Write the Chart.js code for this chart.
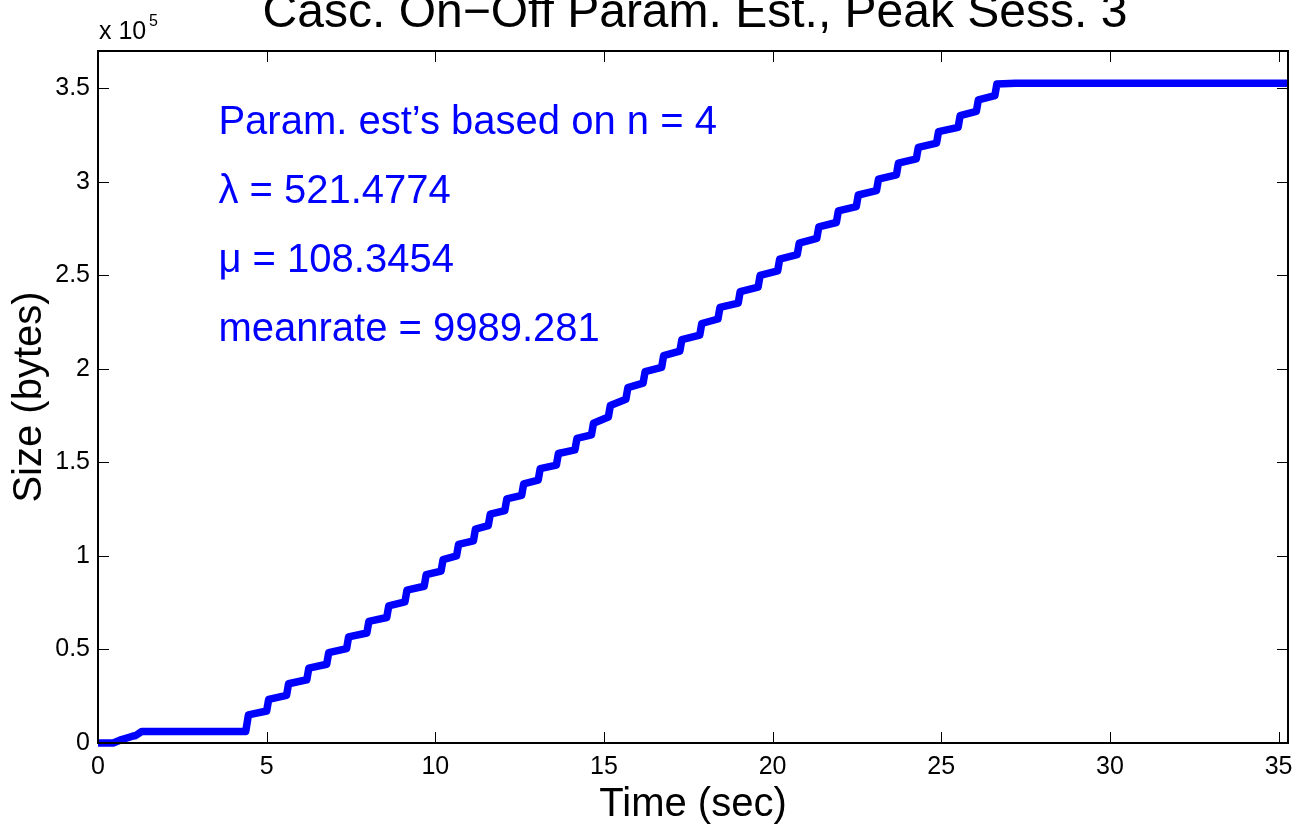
<!DOCTYPE html>
<html>
<head>
<meta charset="utf-8">
<script src="https://cdn.jsdelivr.net/npm/chart.js@4/dist/chart.umd.min.js"></script>
<style>
html,body{margin:0;padding:0;background:#fff;}
#wrap{position:relative;width:1305px;height:829px;}
</style>
</head>
<body>
<div id="wrap"><canvas id="c" width="1305" height="829"></canvas></div>
<script>
// ---- data (time in seconds, size in bytes) ----
const timeSec = [
  0, 0.45, 0.65, 1.0, 1.12, 1.3, 4.38, 4.46,
  5.00, 5.06, 5.59, 5.65, 6.19, 6.25, 6.78, 6.84, 7.37, 7.43, 7.97, 8.03,
  8.56, 8.62, 9.10, 9.16, 9.67, 9.73, 10.17, 10.23, 10.63, 10.69,
  11.13, 11.19, 11.57, 11.63, 12.06, 12.12, 12.56, 12.62, 13.05, 13.11,
  13.59, 13.65, 14.14, 14.20, 14.63, 14.69, 15.13, 15.19, 15.65, 15.71,
  16.16, 16.22, 16.71, 16.77, 17.25, 17.31, 17.84, 17.90, 18.38, 18.44,
  18.98, 19.04, 19.57, 19.63, 20.15, 20.21, 20.73, 20.79, 21.31, 21.37,
  21.89, 21.95, 22.48, 22.54, 23.08, 23.14, 23.67, 23.73, 24.26, 24.32,
  24.86, 24.92, 25.50, 25.56, 26.04, 26.10, 26.59, 26.65, 27.2, 35.28
];
const sizeBytes = [
  0, 0, 1500, 3500, 4000, 6200, 6200, 15000,
  17100, 23300, 25500, 31700, 33800, 40000, 42100, 48300, 50500, 56700, 58800, 65000,
  67100, 73300, 75500, 81700, 83800, 90000, 91900, 98100, 100000, 106200,
  108100, 114300, 116200, 122400, 124300, 130500, 132400, 138600, 140500, 146700,
  148600, 154800, 156700, 162900, 164800, 171000, 174300, 180500, 183800, 190000,
  192400, 198600, 200900, 207100, 209500, 215700, 218100, 224300, 226700, 232900,
  235200, 241400, 243800, 250000, 252500, 258700, 261100, 267300, 269800, 276000,
  278300, 284500, 286800, 293000, 295300, 301500, 303800, 310000, 312300, 318500,
  320700, 326900, 329200, 335400, 337700, 343900, 346200, 352400, 352800, 352800
];
const xTickValues = [0, 5, 10, 15, 20, 25, 30, 35];
const xTickLabels = ['0', '5', '10', '15', '20', '25', '30', '35'];
const yTickValues = [0, 50000, 100000, 150000, 200000, 250000, 300000, 350000];
const yTickLabels = ['0', '0.5', '1', '1.5', '2', '2.5', '3', '3.5'];
const titleText = 'Casc. On\u2212Off Param. Est., Peak Sess. 3';
const xLabel = 'Time (sec)';
const yLabel = 'Size (bytes)';
const annotations = ["Param. est\u2019s based on n = 4", '\u03bb = 521.4774', '\u03bc = 108.3454', 'meanrate = 9989.281'];
const X_MAX = 35.28, Y_MAX = 370000;

const FONT = '"Liberation Sans", Arial, Helvetica, sans-serif';

const points = timeSec.map((t, i) => ({ x: t, y: sizeBytes[i] }));

const decor = {
  id: 'decor',
  afterDraw(chart) {
    const ctx = chart.ctx;
    const a = chart.chartArea;
    const xs = chart.scales.x, ys = chart.scales.y;
    ctx.save();
    // box
    ctx.strokeStyle = '#000';
    ctx.lineWidth = 2;
    ctx.strokeRect(a.left, a.top, a.right - a.left, a.bottom - a.top);
    // inward ticks
    const TL = 11;
    ctx.lineWidth = 1;
    ctx.beginPath();
    xTickValues.forEach(v => {
      const px = Math.round(xs.getPixelForValue(v)) + 0.5;
      ctx.moveTo(px, a.bottom); ctx.lineTo(px, a.bottom - TL);
      ctx.moveTo(px, a.top); ctx.lineTo(px, a.top + TL);
    });
    yTickValues.forEach(v => {
      const py = Math.round(ys.getPixelForValue(v)) + 0.5;
      ctx.moveTo(a.left, py); ctx.lineTo(a.left + TL, py);
      ctx.moveTo(a.right, py); ctx.lineTo(a.right - TL, py);
    });
    ctx.stroke();
    // title (partly cut by the top edge, as in the original)
    ctx.fillStyle = '#000';
    ctx.font = '48px ' + FONT;
    ctx.textAlign = 'center';
    ctx.textBaseline = 'alphabetic';
    ctx.fillText(titleText, 695, 27);
    // exponent
    ctx.textAlign = 'left';
    ctx.font = '25px ' + FONT;
    ctx.fillText('x 10', 99, 39);
    ctx.font = '16px ' + FONT;
    ctx.fillText('5', 149, 26);
    // axis titles
    ctx.font = '40px ' + FONT;
    ctx.textAlign = 'center';
    ctx.fillText(xLabel, (a.left + a.right) / 2, 816);
    ctx.save();
    ctx.translate(41, (a.top + a.bottom) / 2);
    ctx.rotate(-Math.PI / 2);
    ctx.fillText(yLabel, 0, 0);
    ctx.restore();
    // annotations
    ctx.fillStyle = '#0000ff';
    ctx.font = '40px ' + FONT;
    ctx.textAlign = 'left';
    const ax = xs.getPixelForValue(3.57);
    const baselines = [134, 203, 272, 341];
    annotations.forEach((s, i) => ctx.fillText(s, ax, baselines[i]));
    ctx.restore();
  }
};

new Chart(document.getElementById('c'), {
  type: 'line',
  data: {
    datasets: [{
      data: points,
      borderColor: '#0000ff',
      borderWidth: 7.5,
      borderJoinStyle: 'round',
      borderCapStyle: 'butt',
      pointRadius: 0,
      tension: 0,
      fill: false,
      clip: { left: 8, top: 8, right: 0, bottom: 8 }
    }]
  },
  options: {
    responsive: false,
    devicePixelRatio: 1,
    animation: false,
    layout: { padding: { top: 51, right: 17, left: 0, bottom: 0 } },
    plugins: { legend: { display: false }, tooltip: { enabled: false }, title: { display: false } },
    scales: {
      x: {
        type: 'linear', min: 0, max: X_MAX,
        grid: { display: false, drawTicks: false },
        border: { display: false },
        afterFit: s => { s.height = 86; },
        afterBuildTicks: s => { s.ticks = xTickValues.map(v => ({ value: v })); },
        ticks: {
          color: '#000', padding: 9, maxRotation: 0, autoSkip: false,
          font: { family: FONT, size: 25 },
          callback: (v) => xTickLabels[xTickValues.indexOf(v)]
        }
      },
      y: {
        type: 'linear', min: 0, max: Y_MAX,
        grid: { display: false, drawTicks: false },
        border: { display: false },
        afterFit: s => { s.width = 98; },
        afterBuildTicks: s => { s.ticks = yTickValues.map(v => ({ value: v })); },
        ticks: {
          color: '#000', padding: 8, autoSkip: false,
          font: { family: FONT, size: 25 },
          callback: (v) => yTickLabels[yTickValues.indexOf(v)]
        }
      }
    }
  },
  plugins: [decor]
});
</script>
</body>
</html>
